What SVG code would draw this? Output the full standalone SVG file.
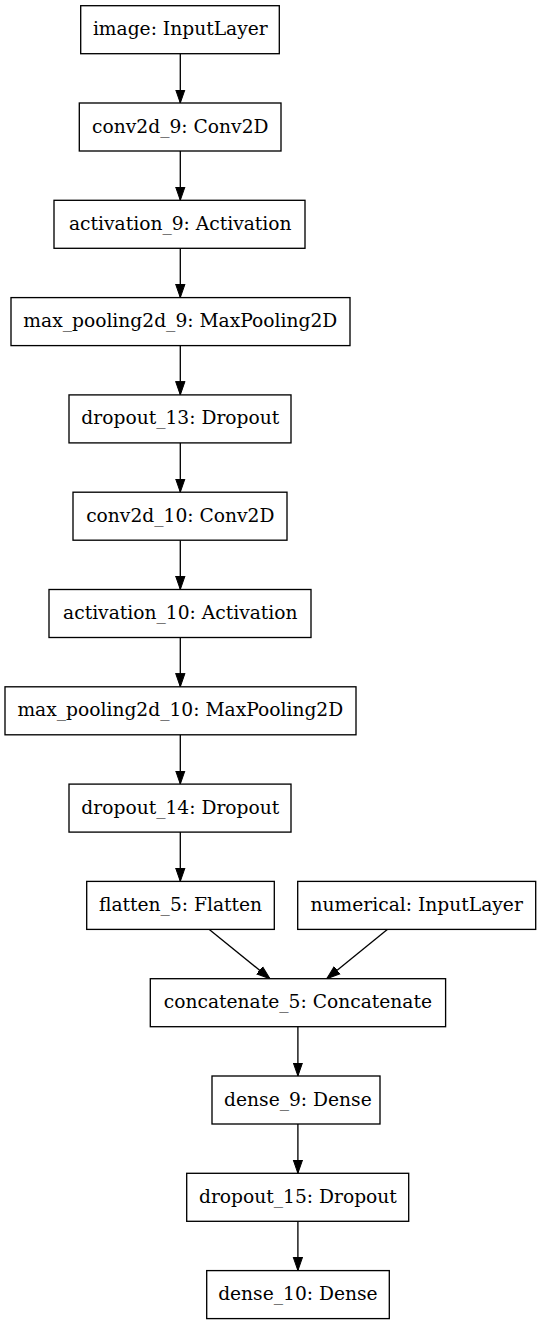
<svg xmlns="http://www.w3.org/2000/svg" width="541" height="1325" viewBox="0 0 541 1325">
<style>
.n rect{fill:#fff;stroke:#000;stroke-width:1.33}
.n text{font-family:"DejaVu Serif",serif;font-size:18.67px;fill:#000;text-anchor:middle}
.e path{fill:none;stroke:#000;stroke-width:1.33}
</style>
<defs>
<marker id="ah" markerUnits="userSpaceOnUse" markerWidth="14" markerHeight="12" viewBox="0 0 14 12" refX="13.5" refY="6" orient="auto">
<path d="M0,1.3 L13.5,6 L0,10.7 Z" fill="#000" stroke="#000" stroke-width="1"/>
</marker>
</defs>
<rect width="541" height="1325" fill="#fff"/>
<g id="edges" class="e">
<path d="M180.3,53.7 L180.3,103" marker-end="url(#ah)"/>
<path d="M180.3,151 L180.3,200.3" marker-end="url(#ah)"/>
<path d="M180.3,248.3 L180.3,297.6" marker-end="url(#ah)"/>
<path d="M180.3,345.6 L180.3,394.9" marker-end="url(#ah)"/>
<path d="M180.3,442.9 L180.3,492.2" marker-end="url(#ah)"/>
<path d="M180.3,540.2 L180.3,589.5" marker-end="url(#ah)"/>
<path d="M180.3,637.5 L180.3,686.8" marker-end="url(#ah)"/>
<path d="M180.3,734.8 L180.3,784.1" marker-end="url(#ah)"/>
<path d="M180.3,832.1 L180.3,881.4" marker-end="url(#ah)"/>
<path d="M209.3,929.4 L270,978.7" marker-end="url(#ah)"/>
<path d="M387.3,929.4 L326.7,978.7" marker-end="url(#ah)"/>
<path d="M297.9,1026.7 L297.9,1076" marker-end="url(#ah)"/>
<path d="M297.9,1124 L297.9,1173.3" marker-end="url(#ah)"/>
<path d="M297.9,1221.3 L297.9,1270.6" marker-end="url(#ah)"/>
</g>
<g id="n1" class="n"><rect x="80.7" y="5.7" width="198.6" height="48"/><text x="180.3" y="35.2">image: InputLayer</text></g>
<g id="n2" class="n"><rect x="79.3" y="103" width="201.7" height="48"/><text x="180.3" y="132.5">conv2d_9: Conv2D</text></g>
<g id="n3" class="n"><rect x="54" y="200.3" width="251" height="48"/><text x="180.3" y="229.8">activation_9: Activation</text></g>
<g id="n4" class="n"><rect x="11" y="297.6" width="339" height="48"/><text x="180.3" y="327.1">max_pooling2d_9: MaxPooling2D</text></g>
<g id="n5" class="n"><rect x="69" y="394.9" width="222" height="48"/><text x="180.3" y="424.4">dropout_13: Dropout</text></g>
<g id="n6" class="n"><rect x="73" y="492.2" width="214" height="48"/><text x="180.3" y="521.7">conv2d_10: Conv2D</text></g>
<g id="n7" class="n"><rect x="49" y="589.5" width="262" height="48"/><text x="180.3" y="619">activation_10: Activation</text></g>
<g id="n8" class="n"><rect x="5" y="686.8" width="351" height="48"/><text x="180.3" y="716.3">max_pooling2d_10: MaxPooling2D</text></g>
<g id="n9" class="n"><rect x="69" y="784.1" width="222" height="48"/><text x="180.3" y="813.6">dropout_14: Dropout</text></g>
<g id="n10" class="n"><rect x="86.7" y="881.4" width="187.6" height="48"/><text x="180.5" y="910.9">flatten_5: Flatten</text></g>
<g id="n11" class="n"><rect x="297.7" y="881.4" width="238" height="48"/><text x="416.7" y="910.9">numerical: InputLayer</text></g>
<g id="n12" class="n"><rect x="150.3" y="978.7" width="295.3" height="48"/><text x="297.9" y="1008.2">concatenate_5: Concatenate</text></g>
<g id="n13" class="n"><rect x="212" y="1076" width="168" height="48"/><text x="297.9" y="1105.5">dense_9: Dense</text></g>
<g id="n14" class="n"><rect x="186.7" y="1173.3" width="222" height="48"/><text x="297.9" y="1202.8">dropout_15: Dropout</text></g>
<g id="n15" class="n"><rect x="206.7" y="1270.6" width="182.6" height="48"/><text x="297.9" y="1300.1">dense_10: Dense</text></g>
</svg>
